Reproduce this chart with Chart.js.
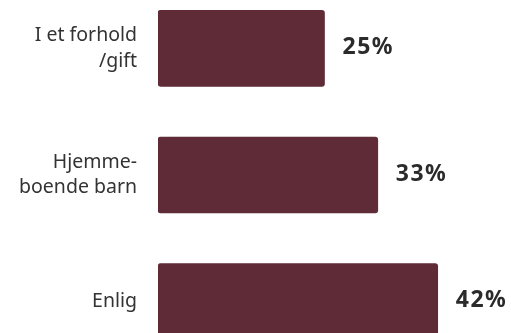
<!DOCTYPE html>
<html>
<head>
<meta charset="utf-8">
<script src="https://cdn.jsdelivr.net/npm/chart.js@4/dist/chart.umd.min.js"></script>
<style>
  html, body { margin: 0; padding: 0; background: #fff; overflow: hidden; }
  #chart { position: absolute; left: 0; top: -15px; }
</style>
</head>
<body>
<canvas id="chart" width="511" height="380"></canvas>
<script>
// categories and values
const categories = [['I et forhold', '/gift'], ['Hjemme-', 'boende barn'], 'Enlig'];
const shares = [25, 33, 42];
const BAR_COLOR = '#5e2b37';

// draws the "25%" style labels just right of every bar
const valueLabels = {
  id: 'valueLabels',
  afterDatasetsDraw(chart) {
    const ctx = chart.ctx;
    const meta = chart.getDatasetMeta(0);
    ctx.save();
    ctx.font = 'bold 23px "Noto Sans"';
    ctx.letterSpacing = '1.5px';
    ctx.fillStyle = '#2b2b2b';
    ctx.textAlign = 'left';
    ctx.textBaseline = 'middle';
    meta.data.forEach((bar, i) => {
      ctx.fillText(shares[i] + '%', bar.x + 18, bar.y - 1);
    });
    ctx.restore();
  }
};

new Chart(document.getElementById('chart'), {
  type: 'bar',
  data: {
    labels: categories,
    datasets: [{
      data: shares,
      backgroundColor: BAR_COLOR,
      borderWidth: 0,
      borderRadius: 3,
      borderSkipped: false,
      barThickness: 76,
    }]
  },
  options: {
    indexAxis: 'y',
    responsive: false,
    animation: false,
    layout: { padding: { top: 0, bottom: 0, left: 0, right: 20 } },
    plugins: { legend: { display: false }, tooltip: { enabled: false } },
    scales: {
      x: { display: false, min: 0, max: 50 },
      y: {
        grid: { display: false, drawTicks: false },
        border: { display: false },
        ticks: {
          color: '#333333',
          padding: 21,
          font: { family: '"Noto Sans"', size: 19.5, lineHeight: 1.3 }
        },
        afterFit(scale) {
          scale.width = 158;
          // bars fill the full height, labels may overhang
          scale.paddingTop = 0;
          scale.paddingBottom = 0;
        }
      }
    }
  },
  plugins: [valueLabels]
});
</script>
</body>
</html>
